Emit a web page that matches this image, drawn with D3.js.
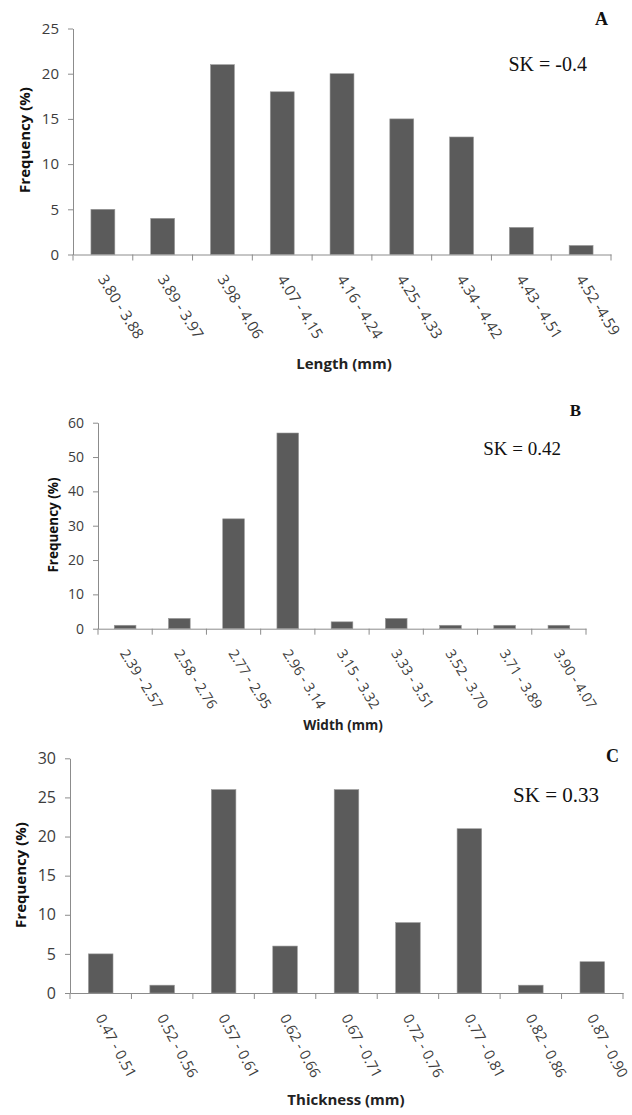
<!DOCTYPE html>
<html>
<head>
<meta charset="utf-8">
<script src="https://cdn.jsdelivr.net/npm/d3@7"></script>
<style>
  html, body { margin: 0; padding: 0; background: #fff; }
  svg { display: block; }
</style>
</head>
<body>
<svg id="chart" width="632" height="1115"></svg>
<script>
// ---- Data ----
const lengthCategories = ["3.80 - 3.88", "3.89 - 3.97", "3.98 - 4.06", "4.07 - 4.15", "4.16 - 4.24", "4.25 - 4.33", "4.34 - 4.42", "4.43 - 4.51", "4.52 -4.59"];
const lengthValues = [5, 4, 21, 18, 20, 15, 13, 3, 1];
const lengthTicks = [0, 5, 10, 15, 20, 25];

const widthCategories = ["2.39 - 2.57", "2.58 - 2.76", "2.77 - 2.95", "2.96 - 3.14", "3.15 - 3.32", "3.33 - 3.51", "3.52 - 3.70", "3.71 - 3.89", "3.90 - 4.07"];
const widthValues = [1, 3, 32, 57, 2, 3, 1, 1, 1];
const widthTicks = [0, 10, 20, 30, 40, 50, 60];

const thicknessCategories = ["0.47 - 0.51", "0.52 - 0.56", "0.57 - 0.61", "0.62 - 0.66", "0.67 - 0.71", "0.72 - 0.76", "0.77 - 0.81", "0.82 - 0.86", "0.87 - 0.90"];
const thicknessValues = [5, 1, 26, 6, 26, 9, 21, 1, 4];
const thicknessTicks = [0, 5, 10, 15, 20, 25, 30];

const panelLetters = ["A", "B", "C"];
const skTexts = ["SK = -0.4", "SK = 0.42", "SK = 0.33"];
const xTitles = ["Length (mm)", "Width (mm)", "Thickness  (mm)"];
const yTitle = "Frequency (%)";

// ---- Layout ----
const panels = [
  { cats: lengthCategories, vals: lengthValues, ticks: lengthTicks,
    x0: 73, x1: 611, y0: 254.5, yTop: 28.5,
    tickFont: 15, labelFont: 15, labelAngle: 58,
    xTitleFont: 15, xTitleX: 344, xTitleY: 369,
    yTitleFont: 15, yTitleX: 25, yTitleY: 140,
    letter: panelLetters[0], letterX: 608, letterY: 25, letterFont: 18,
    sk: skTexts[0], skX: 587, skY: 71, skFont: 20, xTitle: xTitles[0] },
  { cats: widthCategories, vals: widthValues, ticks: widthTicks,
    x0: 98, x1: 586, y0: 628.7, yTop: 422.7,
    tickFont: 14, labelFont: 14, labelAngle: 58,
    xTitleFont: 13.5, xTitleX: 343, xTitleY: 730,
    yTitleFont: 13.5, yTitleX: 53, yTitleY: 525,
    letter: panelLetters[1], letterX: 581, letterY: 416, letterFont: 17,
    sk: skTexts[1], skX: 561, skY: 455, skFont: 19, xTitle: xTitles[1] },
  { cats: thicknessCategories, vals: thicknessValues, ticks: thicknessTicks,
    x0: 70, x1: 623, y0: 993, yTop: 758.3,
    tickFont: 16, labelFont: 14.5, labelAngle: 62,
    xTitleFont: 15, xTitleX: 346, xTitleY: 1105,
    yTitleFont: 15, yTitleX: 21, yTitleY: 875,
    letter: panelLetters[2], letterX: 619, letterY: 762, letterFont: 18,
    sk: skTexts[2], skX: 599, skY: 802, skFont: 21, xTitle: xTitles[2] }
];

const svg = d3.select("#chart");
svg.append("rect").attr("width", 632).attr("height", 1115).attr("fill", "#fff");

const axisColor = "#8c8c8c";
const textColor = "#3c3c3c";
const barColor = "#5b5b5b";
const sans = "'Open Sans', 'DejaVu Sans', sans-serif";
const serif = "'Liberation Serif', 'Times New Roman', serif";

panels.forEach(p => {
  const g = svg.append("g");
  const x = d3.scaleBand().domain(p.cats).range([p.x0, p.x1]).paddingInner(0.6).paddingOuter(0.3);
  const y = d3.scaleLinear().domain([0, p.ticks[p.ticks.length - 1]]).range([p.y0, p.yTop]);

  // bars
  g.selectAll("rect.bar").data(p.vals).join("rect")
    .attr("class", "bar")
    .attr("x", (d, i) => x(p.cats[i]))
    .attr("width", x.bandwidth())
    .attr("y", d => y(d))
    .attr("height", d => y(0) - y(d))
    .attr("fill", barColor)
    .attr("stroke", "#9a9a9a")
    .attr("stroke-width", 0.6);

  // y axis
  const yAxis = g.append("g").attr("transform", `translate(${p.x0},0)`)
    .call(d3.axisLeft(y).tickValues(p.ticks).tickSize(5).tickPadding(9).tickSizeOuter(0).tickFormat(d3.format("d")));
  yAxis.select(".domain").attr("stroke", axisColor);
  yAxis.selectAll(".tick line").attr("stroke", axisColor);
  yAxis.selectAll(".tick text").attr("fill", textColor).attr("font-family", sans).attr("font-size", p.tickFont);

  // x axis (labels at category centres)
  const xAxis = g.append("g").attr("transform", `translate(0,${p.y0})`)
    .call(d3.axisBottom(x).tickSize(0).tickSizeOuter(0));
  xAxis.select(".domain").attr("stroke", axisColor);
  xAxis.selectAll(".tick text")
    .attr("fill", textColor).attr("font-family", sans).attr("font-size", p.labelFont)
    .attr("text-anchor", "start")
    .attr("x", 0).attr("y", 0).attr("dy", 0)
    .attr("transform", `translate(-5.5,24.5) rotate(${p.labelAngle})`);

  // boundary tick marks between categories
  const bounds = d3.range(p.cats.length + 1).map(i => p.x0 + i * x.step());
  g.selectAll("line.bt").data(bounds).join("line")
    .attr("class", "bt")
    .attr("x1", d => d).attr("x2", d => d)
    .attr("y1", p.y0).attr("y2", p.y0 + 6)
    .attr("stroke", axisColor);

  // axis titles
  g.append("text").attr("x", p.xTitleX).attr("y", p.xTitleY)
    .attr("text-anchor", "middle").attr("font-family", sans).attr("font-weight", "bold")
    .attr("font-size", p.xTitleFont).attr("fill", "#222").text(p.xTitle);
  g.append("text")
    .attr("transform", `translate(${p.yTitleX},${p.yTitleY}) rotate(-90)`)
    .attr("text-anchor", "middle").attr("dy", "0.35em").attr("font-family", sans).attr("font-weight", "bold")
    .attr("font-size", p.yTitleFont).attr("fill", "#111").text(yTitle);

  // panel letter and skewness
  g.append("text").attr("x", p.letterX).attr("y", p.letterY).attr("text-anchor", "end")
    .attr("font-family", serif).attr("font-weight", "bold").attr("font-size", p.letterFont)
    .attr("fill", "#111").text(p.letter);
  g.append("text").attr("x", p.skX).attr("y", p.skY).attr("text-anchor", "end")
    .attr("font-family", serif).attr("font-size", p.skFont)
    .attr("fill", "#111").text(p.sk);
});
</script>
</body>
</html>
